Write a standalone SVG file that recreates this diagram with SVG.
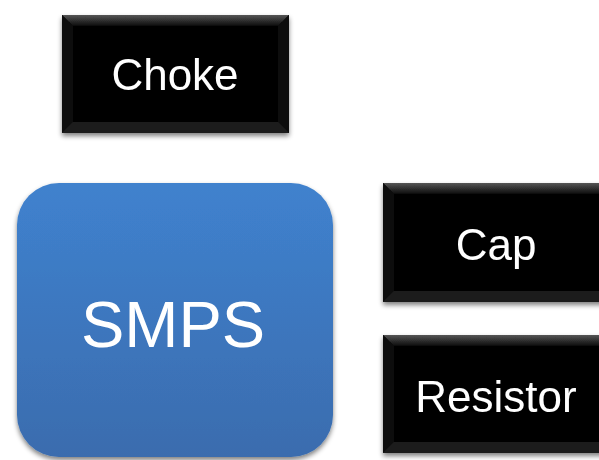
<svg xmlns="http://www.w3.org/2000/svg" width="599" height="460" viewBox="0 0 599 460">
<defs>
<filter id="sh" x="-10%" y="-10%" width="130%" height="130%">
<feGaussianBlur in="SourceAlpha" stdDeviation="2.5"/>
<feOffset dx="0" dy="3" result="b"/>
<feComponentTransfer><feFuncA type="linear" slope="0.5"/></feComponentTransfer>
<feMerge><feMergeNode/><feMergeNode in="SourceGraphic"/></feMerge>
</filter>
<linearGradient id="blue" x1="0" y1="0" x2="0" y2="1">
<stop offset="0" stop-color="#4182cd"/>
<stop offset="0.08" stop-color="#3f80cc"/>
<stop offset="1" stop-color="#3a6cae"/>
</linearGradient>
<linearGradient id="topbev" x1="0" y1="0" x2="0" y2="1">
<stop offset="0" stop-color="#555555"/>
<stop offset="1" stop-color="#0a0a0a"/>
</linearGradient>
<style>
.lbl{font-family:"Liberation Sans",Arial,sans-serif;fill:#ffffff;text-anchor:middle}
.box{fill:#050505}
.side{fill:#0e0e0e}
.bot{fill:#1c1c1c}
</style>
</defs>
<rect width="599" height="460" fill="#ffffff"/>
<g id="connectors"/>
<g id="choke" filter="url(#sh)">
<rect class="box" x="62" y="15" width="227" height="118"/>
<polygon fill="url(#topbev)" points="62,15 289,15 278,26 73,26"/>
<polygon class="side" points="62,15 73,26 73,122 62,133"/>
<polygon class="side" points="289,15 278,26 278,122 289,133"/>
<polygon class="bot" points="62,133 73,122 278,122 289,133"/>
<text class="lbl" x="175" y="90" font-size="44">Choke</text>
</g>
<g id="smps" filter="url(#sh)">
<rect x="17" y="183" width="316" height="274" rx="42" ry="42" fill="url(#blue)"/>
<text class="lbl" x="173" y="347" font-size="65">SMPS</text>
</g>
<g id="cap" filter="url(#sh)">
<rect class="box" x="383" y="183" width="227" height="119"/>
<polygon fill="url(#topbev)" points="383,183 610,183 599,194 394,194"/>
<polygon class="side" points="383,183 394,194 394,291 383,302"/>
<polygon class="bot" points="383,302 394,291 610,291 610,302"/>
<text class="lbl" x="496" y="260" font-size="44">Cap</text>
</g>
<g id="resistor" filter="url(#sh)">
<rect class="box" x="383" y="335" width="227" height="118"/>
<polygon fill="url(#topbev)" points="383,335 610,335 599,346 394,346"/>
<polygon class="side" points="383,335 394,346 394,442 383,453"/>
<polygon class="bot" points="383,453 394,442 610,442 610,453"/>
<text class="lbl" x="496" y="412" font-size="44">Resistor</text>
</g>
</svg>
